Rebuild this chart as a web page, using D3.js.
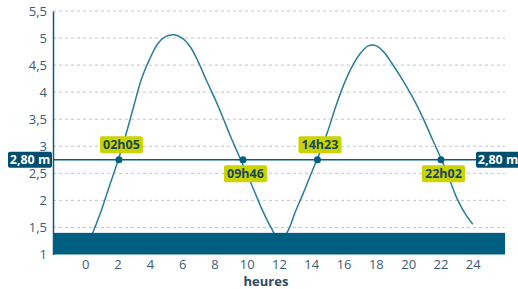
<!DOCTYPE html>
<html lang="fr">
  <head>
    <meta charset="UTF-8" />
    <title>marée</title>
    <style>
      body { margin: 0; background: #fff; }
      svg { display: block; font-family: "Open Sans", sans-serif; }
    </style>
  </head>
  <body>
    <svg width="518" height="289"></svg>
    <script src="https://cdn.jsdelivr.net/npm/d3@7"></script>
    <script>
      // hauteur d'eau (m) par demi-heure
      var hours = [0, 0.5, 1, 1.5, 2, 2.5, 3, 3.5, 4, 4.5, 5, 5.5, 6, 6.5, 7, 7.5, 8, 8.5, 9, 9.5, 10, 10.5, 11, 11.5,
        12, 12.5, 13, 13.5, 14, 14.5, 15, 15.5, 16, 16.5, 17, 17.5, 18, 18.5, 19, 19.5, 20, 20.5, 21, 21.5, 22, 22.5, 23, 23.5, 24];
      var heights = [1.1, 1.43, 1.82, 2.27, 2.71, 3.2, 3.74, 4.26, 4.62, 4.9, 5.03, 5.06, 5.0, 4.84, 4.56, 4.22, 3.9, 3.55, 3.18, 2.84, 2.5, 2.15, 1.8, 1.5,
        1.28, 1.41, 1.78, 2.13, 2.5, 2.86, 3.26, 3.72, 4.13, 4.46, 4.7, 4.85, 4.86, 4.74, 4.53, 4.3, 4.05, 3.78, 3.47, 3.13, 2.8, 2.44, 2.05, 1.77, 1.56];
      var yTicks = [1, 1.5, 2, 2.5, 3, 3.5, 4, 4.5, 5, 5.5];
      var xTicks = [0, 2, 4, 6, 8, 10, 12, 14, 16, 18, 20, 22, 24];
      var refLevel = 2.75, refLabel = "2,80 m";
      var lowBand = [1, 1.4];
      var crossTimes = [2 + 5 / 60, 9 + 46 / 60, 14 + 23 / 60, 22 + 2 / 60];
      var crossLabels = ["02h05", "09h46", "14h23", "22h02"];

      var svg = d3.select("svg");
      var x = d3.scaleLinear().domain([-2, 26]).range([53, 505]);
      var y = d3.scaleLinear().domain([1, 5.5]).range([254.5, 11]);
      var fmt = function(d) { return String(d).replace(".", ","); };

      // grille
      svg.append("g").selectAll("line").data(yTicks.slice(1)).enter().append("line")
        .attr("x1", x(-2)).attr("x2", x(26))
        .attr("y1", function(d) { return y(d); }).attr("y2", function(d) { return y(d); })
        .attr("stroke", "#c4c4c4").attr("stroke-dasharray", "3,3");

      // axe y
      var yAxis = svg.append("g").attr("transform", "translate(" + x(-2) + ",0)")
        .call(d3.axisLeft(y).tickValues(yTicks).tickFormat(fmt).tickSize(0).tickPadding(6));
      yAxis.select(".domain").attr("stroke", "#0d5a78").attr("stroke-width", 1.5);
      yAxis.selectAll("text").attr("fill", "#3b5b72").style("font-size", "13px")
        .style("font-family", "Open Sans");

      // axe x
      var xAxis = svg.append("g").attr("transform", "translate(0," + y(1) + ")")
        .call(d3.axisBottom(x).tickValues(xTicks).tickSize(0).tickPadding(5));
      xAxis.select(".domain").remove();
      xAxis.selectAll("text").attr("fill", "#3b5b72").style("font-size", "13px")
        .style("font-family", "Open Sans");

      svg.append("text").attr("x", 266).attr("y", 286).attr("text-anchor", "middle")
        .attr("fill", "#2b4a60").style("font-size", "13px").style("font-weight", "bold")
        .text("heures");

      // courbe
      var line = d3.line()
        .x(function(d, i) { return x(hours[i]); })
        .y(function(d) { return y(d); })
        .curve(d3.curveCatmullRom);
      svg.append("path").datum(heights).attr("d", line)
        .attr("fill", "none").attr("stroke", "#2a7c9a").attr("stroke-width", 1.5);

      // bande basse
      svg.append("rect")
        .attr("x", x(-2)).attr("width", x(26) - x(-2))
        .attr("y", y(lowBand[1])).attr("height", y(lowBand[0]) - y(lowBand[1]))
        .attr("fill", "#005f80");

      // niveau de référence
      svg.append("line").attr("x1", x(-2)).attr("x2", 478)
        .attr("y1", y(refLevel)).attr("y2", y(refLevel))
        .attr("stroke", "#005f80").attr("stroke-width", 1.5);

      [8, 476].forEach(function(bx) {
        svg.append("rect").attr("x", bx).attr("y", y(refLevel) - 8).attr("width", 44)
          .attr("height", 16).attr("rx", 2).attr("fill", "#004e6d");
        svg.append("text").attr("x", bx + 22).attr("y", y(refLevel) + 4.5).attr("text-anchor", "middle")
          .attr("fill", "#fff").style("font-size", "12.5px").style("font-weight", "bold").text(refLabel);
      });

      // heures de passage
      crossTimes.forEach(function(t, i) {
        var cx = x(t), cy = y(refLevel);
        var above = i % 2 === 0;
        var by = above ? cy - 23.5 : cy + 5.5;
        svg.append("circle").attr("cx", cx).attr("cy", cy).attr("r", 3.5).attr("fill", "#005f80");
        svg.append("rect").attr("x", cx - 19).attr("y", by).attr("width", 43).attr("height", 17)
          .attr("rx", 2).attr("fill", "#c9d400");
        svg.append("text").attr("x", cx + 2.5).attr("y", by + 13).attr("text-anchor", "middle")
          .attr("fill", "#17475e").style("font-size", "12.5px").style("font-weight", "bold")
          .text(crossLabels[i]);
      });
    </script>
  </body>
</html>
